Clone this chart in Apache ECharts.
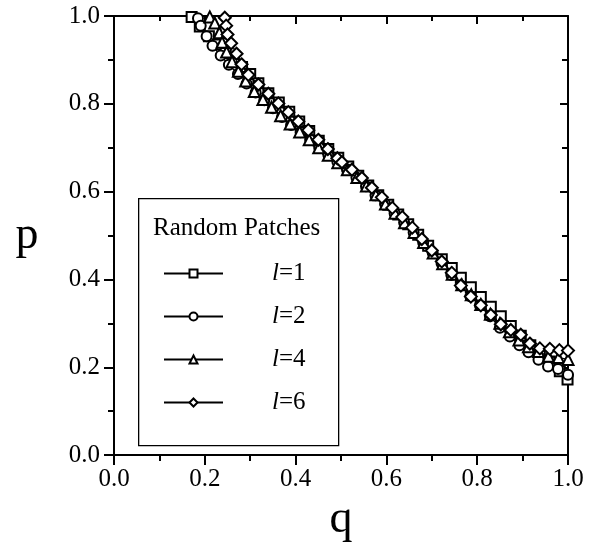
<!DOCTYPE html>
<html>
<head>
<meta charset="utf-8">
<script src="https://cdn.jsdelivr.net/npm/echarts@6/dist/echarts.min.js"></script>
<style>
html,body{margin:0;padding:0;background:#fff;}
#chart{width:599px;height:548px;}
</style>
</head>
<body>
<div id="chart"></div>
<script>
// ---- data ----
const xTicks = ['0.0','0.2','0.4','0.6','0.8','1.0'];
const yTicks = ['0.0','0.2','0.4','0.6','0.8','1.0'];
const seriesNames = ['1','2','4','6'];
const legendTitle = 'Random Patches';

const l1 = [[0.171,0.998],[0.189,0.976],[0.209,0.954],[0.228,0.935],[0.246,0.916],[0.264,0.900],[0.282,0.884],[0.300,0.868],[0.318,0.847],[0.340,0.824],[0.363,0.803],[0.386,0.782],[0.408,0.760],[0.430,0.738],[0.451,0.716],[0.472,0.697],[0.494,0.677],[0.516,0.657],[0.538,0.636],[0.560,0.614],[0.582,0.592],[0.604,0.570],[0.626,0.548],[0.648,0.526],[0.670,0.502],[0.692,0.477],[0.722,0.446],[0.744,0.426],[0.764,0.404],[0.786,0.382],[0.808,0.360],[0.830,0.338],[0.852,0.316],[0.874,0.294],[0.896,0.272],[0.917,0.250],[0.938,0.229],[0.959,0.213],[0.982,0.191],[0.999,0.172]];
const l2 = [[0.185,0.995],[0.191,0.978],[0.204,0.954],[0.217,0.932],[0.235,0.910],[0.253,0.889],[0.273,0.868],[0.292,0.846],[0.312,0.826],[0.331,0.808],[0.350,0.790],[0.370,0.770],[0.390,0.752],[0.411,0.735],[0.432,0.718],[0.452,0.700],[0.472,0.684],[0.492,0.668],[0.513,0.651],[0.534,0.632],[0.555,0.612],[0.576,0.592],[0.597,0.572],[0.618,0.551],[0.639,0.530],[0.660,0.507],[0.681,0.484],[0.702,0.460],[0.722,0.436],[0.743,0.410],[0.764,0.386],[0.785,0.362],[0.806,0.341],[0.828,0.316],[0.850,0.290],[0.872,0.270],[0.893,0.250],[0.913,0.234],[0.935,0.217],[0.956,0.202],[0.978,0.196],[1.000,0.183]];
const l4 = [[0.211,0.998],[0.222,0.984],[0.232,0.962],[0.238,0.940],[0.248,0.918],[0.260,0.896],[0.274,0.874],[0.290,0.852],[0.309,0.828],[0.328,0.810],[0.347,0.792],[0.367,0.773],[0.388,0.754],[0.409,0.736],[0.430,0.718],[0.451,0.700],[0.472,0.683],[0.493,0.666],[0.514,0.650],[0.535,0.632],[0.556,0.613],[0.577,0.593],[0.598,0.572],[0.619,0.551],[0.640,0.529],[0.661,0.507],[0.682,0.484],[0.703,0.460],[0.724,0.436],[0.745,0.412],[0.766,0.388],[0.787,0.365],[0.808,0.343],[0.829,0.321],[0.850,0.300],[0.871,0.281],[0.892,0.262],[0.913,0.247],[0.935,0.236],[0.957,0.225],[0.979,0.222],[1.000,0.218]];
const l6 = [[0.244,0.996],[0.247,0.978],[0.250,0.958],[0.258,0.938],[0.270,0.914],[0.281,0.890],[0.296,0.866],[0.318,0.844],[0.340,0.823],[0.362,0.801],[0.384,0.781],[0.406,0.760],[0.428,0.740],[0.450,0.718],[0.471,0.697],[0.492,0.676],[0.502,0.667],[0.524,0.650],[0.546,0.631],[0.568,0.609],[0.590,0.587],[0.613,0.563],[0.635,0.542],[0.657,0.518],[0.678,0.492],[0.700,0.466],[0.722,0.441],[0.744,0.415],[0.764,0.386],[0.786,0.361],[0.808,0.341],[0.830,0.319],[0.852,0.298],[0.874,0.285],[0.896,0.274],[0.916,0.254],[0.938,0.243],[0.960,0.242],[0.981,0.239],[1.000,0.238]];

const seriesData = [l1, l2, l4, l6];
const symbols = ['emptyRect','emptyCircle','emptyTriangle','emptyDiamond'];
const symbolSizes = [10, 10, 11, 12];

const FONT = '"Liberation Serif", "DejaVu Serif", serif';

const chart = echarts.init(document.getElementById('chart'), null, {renderer: 'canvas'});

const axisCommon = {
  type: 'value', min: 0, max: 1, interval: 0.2,
  splitLine: {show: false},
  axisLine: {show: true, onZero: false, lineStyle: {color: '#000', width: 2}},
};

const option = {
  backgroundColor: '#fff',
  animation: false,
  grid: {left: 114, right: 31, top: 16, bottom: 78, containLabel: false},
  xAxis: [
    Object.assign({}, axisCommon, {
      position: 'bottom',
      name: 'q', nameLocation: 'middle', nameGap: 50,
      nameTextStyle: {fontFamily: FONT, fontSize: 46, color: '#000', verticalAlign: 'middle'},
      axisTick: {show: true, inside: false, length: 10, lineStyle: {color: '#000', width: 2}},
      minorTick: {show: true, splitNumber: 2, length: 6, lineStyle: {color: '#000', width: 2}},
      axisLabel: {show: true, margin: 12, fontFamily: FONT, fontSize: 25, color: '#000',
        formatter: (v) => xTicks[Math.round(v / 0.2)]}
    }),
    Object.assign({}, axisCommon, {
      position: 'top',
      axisTick: {show: true, inside: true, length: 8, lineStyle: {color: '#000', width: 2}},
      minorTick: {show: true, splitNumber: 2, length: 5, lineStyle: {color: '#000', width: 2}},
      axisLabel: {show: false}
    })
  ],
  yAxis: [
    Object.assign({}, axisCommon, {
      position: 'left',
      name: 'p', nameLocation: 'middle', nameGap: 87, nameRotate: 0,
      nameTextStyle: {fontFamily: FONT, fontSize: 46, color: '#000', align: 'center', verticalAlign: 'middle', padding: [0, 0, 40, 0]},
      axisTick: {show: true, inside: false, length: 10, lineStyle: {color: '#000', width: 2}},
      minorTick: {show: true, splitNumber: 2, length: 6, lineStyle: {color: '#000', width: 2}},
      axisLabel: {show: true, margin: 14, fontFamily: FONT, fontSize: 25, color: '#000',
        formatter: (v) => yTicks[Math.round(v / 0.2)]}
    }),
    Object.assign({}, axisCommon, {
      position: 'right',
      axisTick: {show: true, inside: true, length: 8, lineStyle: {color: '#000', width: 2}},
      minorTick: {show: true, splitNumber: 2, length: 6, lineStyle: {color: '#000', width: 2}},
      axisLabel: {show: false}
    })
  ],
  legend: {
    z: 30,
    orient: 'vertical',
    left: 163, top: 261,
    padding: 0,
    itemWidth: 59, itemHeight: 10,
    itemGap: 18,
    data: seriesNames.map(n => 'l=' + n),
    formatter: (name) => '{s| }{i|l}{r|' + name.slice(1) + '}',
    textStyle: {
      color: '#000', fontFamily: FONT, fontSize: 25, lineHeight: 25,
      rich: {
        s: {width: 44, fontSize: 25, lineHeight: 25},
        i: {fontStyle: 'italic', fontFamily: FONT, fontSize: 25, lineHeight: 25, color: '#000'},
        r: {fontFamily: FONT, fontSize: 25, lineHeight: 25, color: '#000'}
      }
    }
  },
  graphic: {
    z: 1,
    elements: [
      {type: 'rect', left: 138, top: 198, z: 1,
        shape: {width: 200, height: 247},
        style: {fill: 'transparent', stroke: '#000', lineWidth: 1.3}},
      {type: 'text', left: 153, top: 216, z: 2,
        style: {text: legendTitle, fill: '#000', font: '25px ' + FONT}}
    ]
  },
  series: seriesData.map((d, i) => ({
    name: 'l=' + seriesNames[i],
    type: 'line',
    data: d,
    symbol: symbols[i],
    symbolSize: symbolSizes[i],
    showAllSymbol: true,
    color: '#000',
    lineStyle: {color: '#000', width: 1.2},
    itemStyle: {color: '#000', borderWidth: 1.5},
    z: 100 + i
  }))
};

chart.setOption(option);
</script>
</body>
</html>
